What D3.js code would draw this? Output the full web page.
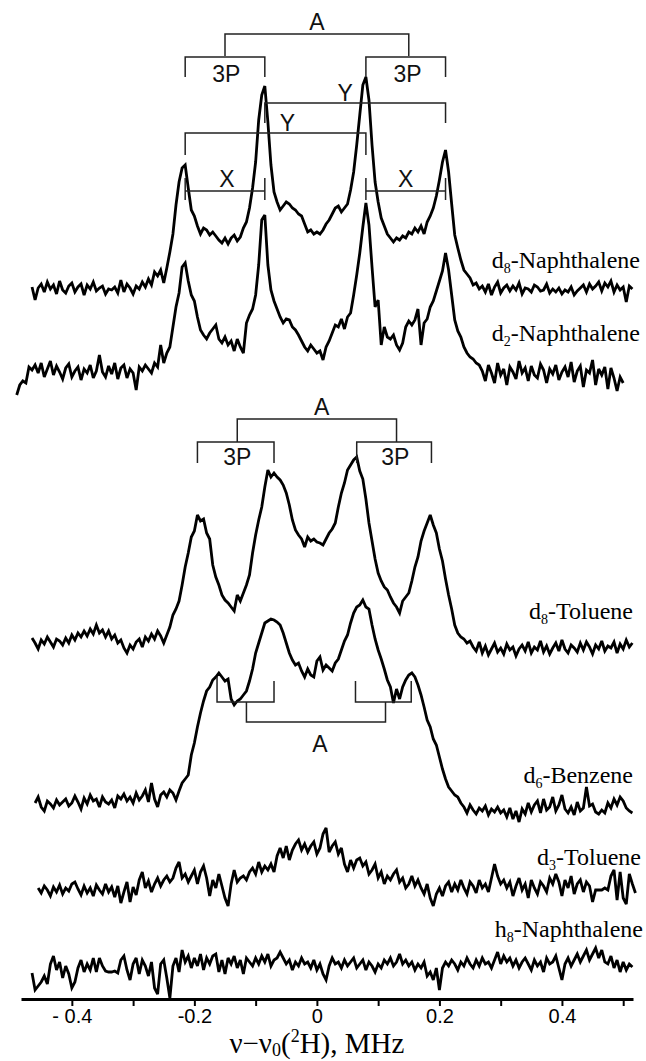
<!DOCTYPE html>
<html>
<head>
<meta charset="utf-8">
<script src="https://cdn.jsdelivr.net/npm/d3@7"></script>
<style>
  body { margin: 0; background: #fff; }
</style>
</head>
<body>
<div id="chart"></div>
<script>
// every spectrum is sampled on a 0.005 MHz grid
const step = 0.005;

// spectrum names as [letter, subscript, rest]
const names = [["d", "8", "-Naphthalene"], ["d", "2", "-Naphthalene"], ["d", "8", "-Toluene"],
               ["d", "6", "-Benzene"], ["d", "3", "-Toluene"], ["h", "8", "-Naphthalene"]];
// first frequency of each spectrum (MHz)
const starts = [-0.465, -0.49, -0.465, -0.46, -0.455, -0.465];
// stacking offset of each spectrum (arb. units)
const offsets = [709, 624, 354, 194, 109, 31];

// intensities (arb. units)
const d8Naphthalene = [
  3, -10, 2, 6, -2, 8, 1, 5, -4, 9,
  0, -3, 4, 7, -2, 3, 6, -5, 5, 1,
  8, -1, 2, 4, -4, 1, 0, 3, -3, 10,
  -2, 6, 2, -4, 4, 1, 8, 3, 11, 5,
  18, 14, 20, 7, 22, 38, 56, 85, 108, 122,
  125, 102, 80, 74, 64, 56, 62, 60, 55, 58,
  54, 50, 47, 52, 46, 52, 55, 49, 53, 62,
  68, 82, 102, 128, 170, 195, 204, 168, 125, 98,
  88, 80, 84, 88, 86, 82, 80, 76, 74, 66,
  58, 60, 56, 58, 56, 60, 66, 70, 76, 82,
  84, 78, 82, 86, 100, 118, 145, 175, 205, 213,
  190, 145, 108, 88, 72, 64, 56, 52, 48, 52,
  50, 54, 52, 58, 56, 62, 58, 64, 56, 68,
  74, 82, 94, 110, 128, 140, 118, 86, 55, 42,
  30, 20, 16, 12, 5, 7, 1, 4, -2, 6,
  -5, 3, 8, -3, 2, 5, -1, 4, 0, 7,
  -4, 2, 1, -2, 5, 3, -1, 0, 6, -3,
  1, -2, 2, -4, 0, -2, 3, -5, -1, 2,
  5, -2, 6, 1, 4, 8, -1, 7, 3, 9,
  -2, 5, 0, 3, -12, 4, 1
];
const d2Naphthalene = [
  -20, -10, -6, -8, 8, 5, 10, 2, 12, -2,
  6, 14, 0, 9, 3, -4, 7, 11, -2, 4,
  8, -5, 6, 2, 10, -3, 4, 20, 3, -2,
  9, 1, 12, -4, 7, 10, -3, 6, 2, -15,
  8, 4, 10, 6, 2, 12,
  8, 30, 12, 22, 28, 48, 68, 82, 108, 112,
  94, 80, 74, 58, 45, 40, 36, 42, 46, 50,
  36, 32, 38, 30, 34, 24, 36, 28, 22, 52,
  60, 66, 80, 110, 155, 160, 110, 85, 74, 66,
  58, 52, 56, 55, 48, 45, 40, 34, 28, 24,
  30, 26, 22, 24, 15, 28, 34, 42, 50, 48,
  56, 46, 58, 62, 80, 100, 122, 148, 172, 150,
  108, 68, 75, 30, 48, 38, 36, 40, 30, 25,
  32, 48, 54, 50, 55, 66, 30, 52, 56, 68,
  74, 84, 94, 104, 122, 105, 80, 55, 44, 38,
  28, 22, 18, 16, 12, 10,
  4, -6, 10, 2, -8, 12, 0, 6, -10, 8,
  3, -4, 14, 2, 7, -6, 9, 0, -3, 11,
  5, -8, 6, 1, 10, -5, 3, 8, -2, 13,
  -7, 4, 9, -12, 5, 2, 15, -10, 6, 0,
  8, -14, 7, -3, -16, -2, -8
];
const d8Toluene = [
  7, 2, -4, 5, 1, 8, 3, -2, 6, 4,
  0, 7, 2, 10, 5, 12, 8, 14, 9, 16,
  11, 20, 12, 15, 8, 14, 6, 10, 2, 5,
  -3, -8, 0, -4, 3, 6, -2, 8, 4, 11,
  6, 14, 9,
  2, 10, 18, 30, 36, 44, 60, 78, 92, 108,
  114, 130, 124, 126, 112, 106, 80, 68, 60, 50,
  45, 42, 38, 34, 50, 44, 52, 60, 70, 92,
  110, 125, 138, 158, 175, 168, 172, 168, 165, 160,
  152, 140, 125, 115, 110, 106, 98, 108, 104, 106,
  103, 102, 100, 106, 112, 116, 122, 138, 152, 162,
  175, 180, 185, 188, 174, 166, 146, 122, 104, 86,
  72, 64, 58, 55, 48, 42, 38, 32, 44, 48,
  52, 64, 78, 88, 104, 114, 122, 130, 120, 112,
  96, 84, 66, 50, 36, 20, 12, 8, 6, 2,
  4,
  -2, -6, 3, -8, -1, -10, -4, 2, -7, -3,
  -9, 1, -5, -2, -11, -4, 0, -6, 3, -8,
  -2, -5, 4, -7, -1, -9, -3, 2, -6, 5,
  -4, -8, 0, -3, -7, 2, -5, 3, -2, -9,
  0, -4, 4, -6, -1, -3, 3, -8, 1, -4,
  5, -2, 2
];
const d6Benzene = [
  2, 8, -2, -6, 4, 1, -3, 5, 0, 3,
  6, -1, 2, 9, 3, -4, 7, 1, 10, 4,
  6, -2, 8, 3, 1, 5, -3, 9, 6, 11,
  4, 8, 2, 12, 5, 9, 15, 3, 22, 6,
  -2, 10, 13, 8, 15, 12, 5, 14,
  22, 26, 30, 50, 62, 78, 92, 104, 114, 118,
  125, 128, 132, 128, 124, 126, 106, 100, 104, 106,
  110, 114, 124, 136, 152, 162, 172, 182, 184, 186,
  185, 183, 180, 172, 162, 152, 145, 140, 142, 134,
  128, 136, 130, 128, 144, 148, 135, 140, 137, 134,
  142, 146, 155, 164, 170, 182, 192, 198, 200, 205,
  198, 196, 180, 166, 155, 146, 136, 125, 118, 102,
  116, 106, 118, 125, 130, 132, 128, 120, 110, 98,
  85, 78, 66, 60, 48, 36, 26, 18, 14, 10,
  8, 2,
  -2, -8, 0, -5, -9, -3, -6, -1, -10, -4,
  -7, -2, -8, -5, -12, -3, -14, -6, -17, -4,
  -9, 2, -7, 0, 4, -8, 6, -5, -2, 8,
  -6, 0, 10, -4, -8, -2, -10, 3, -6, -3,
  18, -1, 1, -7, -9, -5, -8, 2, -3, 6,
  0, 8, 4, -3, -6, -8
];
const d3Toluene = [
  2, -3, 4, 0, -6, 3, -2, 5, -4, 2,
  -1, 6, 8, 1, -5, 4, -3, 2, -6, 5,
  0, -4, 6, -2, 3, -7, 4, -13, -2, 8,
  -12, 3, -5, 10, 18, 2, 9, -2, 6, 12,
  4, 10, 14, 8, 12, 22, 28, 12, 16, 8,
  14, 20, 6, 18, 24, 12, -6, 10, 2, 16,
  4, -8, -16, 6, 20, 8, 12, 14, 10, 18,
  22, 16, 28, 18, 24, 20, 26, 18, 34, 42,
  32, 44, 30, 40, 46, 50, 40, 46, 38, 44,
  48, 36, 42, 56, 62, 38, 44, 48, 36, 42,
  26, 18, 30, 22, 30, 32, 24, 28, 16, 20,
  26, 12, 18, 6, 14, 10, 16, 20, 8, 12,
  2, 6, 14, 4, 10, 2, -4, 6, -8, -16,
  -4, 2, -6, 4, 8, -2, 6, 0, 10, 2,
  -4, 8, 4, -3, 10, 2, 6, -2, 12, 26,
  14, 6, 10, 2, 8, -6, 4, 12, 0, 6,
  -8, 10, 2, -4, 8, 4, -2, 12, 6, 16,
  8, -6, 10, 2, 14, -4, 6, 10, -2, 8,
  4, -12, 0, 0, 0, 2, 0, 14, 20, -10,
  18, -8, -14, 16, 6, -3
];
const h8Naphthalene = [
  -5, -22, -18, -14, -8, -16, 4, 12, -2, 6,
  -10, 2, -6, -20, -14, 0, 8, -4, 4, -2,
  10, -4, 10, 2, -3, -4, -4, -3, -5, 8,
  12, -2, -12, 4, 10, -6, 8, 2, -8, 6,
  -20, -26, 4, 8, -10, -30, 2, 10, -4, 18,
  6, 12, 0, 10, 2, 14, -2, 10, 4, 12,
  14, -4, 8, -6, 10, 4, 12, 0, 8, -6,
  10, 6, 2, 10, 4, 12, 6, 14, 2, 8,
  10, 16, 10, 4, 8, -2, 6, 2, 10, 4,
  6, 0, 8, -2, 4, -6, -12, 2, 10, 4,
  6, 0, 8, 2, 6, 10, 0, 4, 8, -2,
  6, 2, -4, 4, 0, 8, 4, 10, 2, 6,
  14, 4, 8, 2, 6, -2, 4, 0, 6, -8,
  -4, -12, 0, -22, 0, 6, 2, 8, 4, -2,
  6, 2, 10, 4, 0, 8, 2, 10, 4, 6,
  0, 8, 16, 4, 12, 6, 10, 2, 8, 0,
  6, 10, 4, -2, 8, 2, 6, -4, 10, 4,
  6, 12, 0, -12, 4, 10, 2, 8, 14, 6,
  12, 18, 8, 14, 20, 10, 18, 6, 4, 12,
  0, 8, -4, 6, -2, 4, 1
];
const spectra = [d8Naphthalene, d2Naphthalene, d8Toluene, d6Benzene, d3Toluene, h8Naphthalene];

// x axis
const tickValues = [-0.4, -0.3, -0.2, -0.1, 0, 0.1, 0.2, 0.3, 0.4, 0.5];
const tickLabels = ["- 0.4", "", "-0.2", "", "0", "", "0.2", "", "0.4", ""];

// assignment brackets: polylines in (MHz, arb. units) plus their label
const brackets = [
  { label: "A",  at: [0, 969],      lines: [[[-0.15, 943], [-0.15, 965], [0.15, 965], [0.15, 943]]] },
  { label: "3P", at: [-0.148, 917], lines: [[[-0.215, 922], [-0.215, 942], [-0.085, 942], [-0.085, 922]]] },
  { label: "3P", at: [0.148, 917],  lines: [[[0.08, 922], [0.08, 942], [0.21, 942], [0.21, 922]]] },
  { label: "Y",  at: [0.046, 898],  lines: [[[-0.085, 876], [-0.085, 896], [0.21, 896], [0.21, 876]]] },
  { label: "Y",  at: [-0.048, 868], lines: [[[-0.215, 844], [-0.215, 866], [0.08, 866], [0.08, 844]]] },
  { label: "X",  at: [-0.147, 812], lines: [[[-0.215, 808], [-0.085, 808]], [[-0.215, 821], [-0.215, 799]], [[-0.085, 821], [-0.085, 799]]] },
  { label: "X",  at: [0.145, 812],  lines: [[[0.08, 808], [0.21, 808]], [[0.08, 821], [0.08, 799]], [[0.21, 821], [0.21, 799]]] },
  { label: "A",  at: [0.008, 584],  lines: [[[-0.13, 557], [-0.13, 580], [0.13, 580], [0.13, 557]]] },
  { label: "3P", at: [-0.13, 534],  lines: [[[-0.195, 536], [-0.195, 557], [-0.07, 557], [-0.07, 536]]] },
  { label: "3P", at: [0.128, 534],  lines: [[[0.065, 536], [0.065, 557], [0.187, 557], [0.187, 536]]] },
  { label: "",   at: [0, 0],        lines: [[[-0.163, 322], [-0.163, 297], [-0.07, 297], [-0.07, 318]]] },
  { label: "",   at: [0, 0],        lines: [[[0.063, 318], [0.063, 297], [0.154, 297], [0.154, 318]]] },
  { label: "A",  at: [0.005, 247],  lines: [[[-0.115, 297], [-0.115, 277], [0.112, 277], [0.112, 297]]] }
];

const width = 646, height = 1061;
const sans = "'Liberation Sans', Arial, Helvetica, sans-serif";
const serif = "'Liberation Serif', 'Times New Roman', Times, serif";

const svg = d3.select("#chart").append("svg")
    .attr("width", width)
    .attr("height", height)
    .style("background", "#fff");

const x = d3.scaleLinear().domain([-0.483, 0.516]).range([21, 633]);
const y = d3.scaleLinear().domain([0, 1000]).range([999, -1]);

// the spectra
const line = d3.line()
    .x(d => x(d[0]))
    .y(d => y(d[1]));

spectra.forEach((vals, k) => {
  const pts = vals.map((v, i) => [starts[k] + i * step, offsets[k] + v]);
  svg.append("path")
      .datum(pts)
      .attr("d", line)
      .attr("fill", "none")
      .attr("stroke", "#000")
      .attr("stroke-width", 2.8)
      .attr("stroke-linejoin", "miter")
      .attr("stroke-miterlimit", 3);
});

// brackets
const bracketLine = d3.line().x(d => x(d[0])).y(d => y(d[1]));
brackets.forEach(b => {
  b.lines.forEach(pl => {
    svg.append("path")
        .attr("d", bracketLine(pl))
        .attr("fill", "none")
        .attr("stroke", "#222")
        .attr("stroke-width", 1.5);
  });
  if (b.label) {
    svg.append("text")
        .attr("x", x(b.at[0]))
        .attr("y", y(b.at[1]))
        .attr("text-anchor", "middle")
        .attr("font-family", sans)
        .attr("font-size", 23)
        .attr("fill", "#111")
        .text(b.label);
  }
});

// spectrum names on the right
const labelRight = [640, 640, 633, 633, 641, 643];
const labelBase = [268, 341, 619, 783, 865, 937];
names.forEach((n, k) => {
  const t = svg.append("text")
      .attr("x", labelRight[k])
      .attr("y", labelBase[k])
      .attr("text-anchor", "end")
      .attr("font-family", serif)
      .attr("font-size", 24)
      .attr("fill", "#000");
  t.append("tspan").text(n[0]);
  t.append("tspan").attr("dy", 5).attr("font-size", 14).text(n[1]);
  t.append("tspan").attr("dy", -5).text(n[2]);
});

// x axis
const axis = svg.append("g")
    .attr("transform", `translate(0,${y(0)})`)
    .call(d3.axisBottom(x)
      .tickValues(tickValues)
      .tickSize(7)
      .tickSizeOuter(0)
      .tickPadding(3)
      .tickFormat((d, i) => tickLabels[i]));

axis.select(".domain").attr("stroke", "#000").attr("stroke-width", 3);
axis.selectAll(".tick line").attr("stroke", "#000").attr("stroke-width", 2);
axis.selectAll(".tick text")
    .attr("fill", "#000")
    .attr("font-family", sans)
    .attr("font-size", 20);

// axis title: nu - nu0 (2H), MHz
const title = svg.append("text")
    .attr("x", x(0))
    .attr("y", 1053)
    .attr("text-anchor", "middle")
    .attr("font-family", serif)
    .attr("font-size", 29)
    .attr("fill", "#000");
title.append("tspan").text("\u03bd\u2212\u03bd");
title.append("tspan").attr("dy", 3).attr("font-size", 18).text("0");
title.append("tspan").attr("dy", -3).text("(");
title.append("tspan").attr("dy", -11).attr("font-size", 18).text("2");
title.append("tspan").attr("dy", 11).text("H), MHz");
</script>
</body>
</html>
